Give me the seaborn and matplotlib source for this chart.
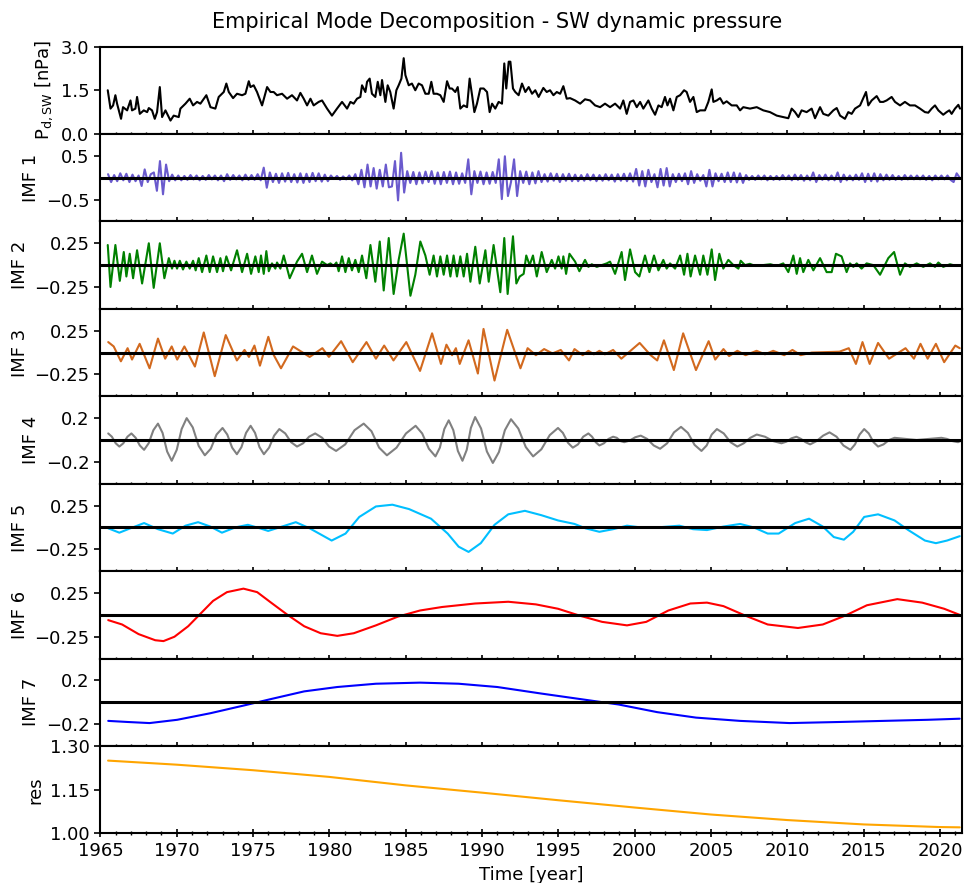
import numpy as np
import matplotlib
matplotlib.use("Agg")
import matplotlib.pyplot as plt
from matplotlib.ticker import MultipleLocator
import seaborn as sns

# --- SW dynamic pressure ---
top_t = [1965.48, 1965.66, 1965.83, 1965.98, 1966.09, 1966.35, 1966.48, 1966.75, 1966.97, 1967.07,
         1967.29, 1967.40, 1967.58, 1967.84, 1968.06, 1968.17, 1968.38, 1968.56, 1968.71, 1968.89,
         1969.04, 1969.26, 1969.59, 1969.80, 1970.13, 1970.24, 1970.57, 1970.85, 1971.07, 1971.33,
         1971.55, 1971.94, 1972.21, 1972.53, 1972.75, 1973.08, 1973.25, 1973.41, 1973.69, 1973.95,
         1974.28, 1974.50, 1974.72, 1974.83, 1975.04, 1975.26, 1975.59, 1975.92, 1976.14, 1976.35,
         1976.57, 1976.90, 1977.23, 1977.55, 1977.88, 1978.10, 1978.32, 1978.54, 1978.76, 1978.97,
         1979.30, 1979.52, 1979.85, 1980.17, 1980.50, 1980.83, 1981.16, 1981.38, 1981.59, 1981.81,
         1982.03, 1982.14, 1982.36, 1982.47, 1982.64, 1982.79, 1983.01, 1983.17, 1983.34, 1983.45,
         1983.67, 1983.82, 1983.99, 1984.21, 1984.39, 1984.54, 1984.72, 1984.87, 1984.98, 1985.20,
         1985.41, 1985.63, 1985.85, 1986.07, 1986.29, 1986.51, 1986.68, 1986.83, 1987.05, 1987.27,
         1987.49, 1987.71, 1987.88, 1988.03, 1988.25, 1988.41, 1988.58, 1988.80, 1989.02, 1989.19,
         1989.35, 1989.50, 1989.67, 1989.89, 1990.11, 1990.33, 1990.50, 1990.66, 1990.87, 1991.09,
         1991.31, 1991.46, 1991.59, 1991.75, 1991.86, 1992.03, 1992.18, 1992.40, 1992.62, 1992.84,
         1993.06, 1993.28, 1993.49, 1993.71, 1994.02, 1994.24, 1994.46, 1994.68, 1994.90, 1995.12,
         1995.33, 1995.55, 1995.77, 1996.10, 1996.43, 1996.75, 1997.08, 1997.41, 1997.74, 1998.06,
         1998.39, 1998.72, 1999.05, 1999.26, 1999.48, 1999.70, 1999.92, 2000.14, 2000.36, 2000.57,
         2000.90, 2001.12, 2001.34, 2001.56, 2001.77, 2001.99, 2002.15, 2002.32, 2002.54, 2002.76,
         2002.98, 2003.24, 2003.41, 2003.63, 2003.85, 2004.07, 2004.29, 2004.61, 2004.83, 2005.05,
         2005.16, 2005.38, 2005.60, 2005.81, 2006.03, 2006.36, 2006.69, 2006.91, 2007.12, 2007.56,
         2008.00, 2008.43, 2008.87, 2009.31, 2009.74, 2010.07, 2010.29, 2010.51, 2010.73, 2010.94,
         2011.27, 2011.60, 2011.82, 2012.15, 2012.36, 2012.69, 2013.02, 2013.24, 2013.46, 2013.78,
         2014.00, 2014.22, 2014.44, 2014.77, 2014.98, 2015.16, 2015.31, 2015.53, 2015.86, 2016.08,
         2016.29, 2016.51, 2016.84, 2017.06, 2017.39, 2017.71, 2018.04, 2018.37, 2018.70, 2019.02,
         2019.24, 2019.46, 2019.68, 2019.90, 2020.22, 2020.44, 2020.62, 2020.77, 2020.99, 2021.21,
         2021.32]
top_v = [1.50, 0.87, 0.98, 1.33, 1.04, 0.52, 0.92, 0.81, 1.15, 0.81,
         0.87, 1.27, 0.69, 0.81, 0.75, 0.89, 0.81, 0.52, 0.75, 1.61,
         0.58, 0.81, 0.46, 0.63, 0.58, 0.87, 1.04, 1.21, 0.98, 1.10,
         1.04, 1.33, 0.92, 0.87, 1.27, 1.44, 1.73, 1.44, 1.23, 1.38,
         1.33, 1.38, 1.81, 1.61, 1.67, 1.44, 0.98, 1.61, 1.44, 1.44,
         1.33, 1.38, 1.21, 1.33, 1.15, 1.41, 1.21, 0.98, 1.21, 0.98,
         1.10, 1.15, 0.87, 0.63, 0.87, 1.10, 0.87, 1.10, 1.04, 1.21,
         1.27, 1.67, 1.44, 1.79, 1.90, 1.38, 1.27, 1.79, 1.33, 1.85,
         1.10, 1.67, 1.44, 0.87, 1.50, 1.67, 1.90, 2.60, 2.02, 1.67,
         1.73, 1.50, 1.73, 1.67, 1.38, 1.38, 1.79, 1.38, 1.38, 1.33,
         1.10, 1.81, 1.56, 1.56, 1.44, 1.61, 0.87, 0.98, 0.92, 1.90,
         1.33, 0.75, 1.04, 1.56, 1.56, 1.44, 0.75, 1.04, 0.87, 1.10,
         1.04, 2.42, 1.56, 2.48, 2.48, 1.56, 1.44, 1.33, 1.73, 1.44,
         1.61, 1.38, 1.50, 1.27, 1.58, 1.44, 1.50, 1.33, 1.44, 1.38,
         1.64, 1.21, 1.23, 1.15, 1.04, 1.19, 1.15, 0.98, 0.92, 1.04,
         0.92, 1.04, 0.87, 1.15, 0.69, 1.10, 1.15, 0.92, 1.10, 0.87,
         1.15, 0.87, 0.66, 0.98, 0.92, 1.27, 0.98, 1.21, 0.81, 1.27,
         1.33, 1.50, 1.44, 1.10, 1.27, 0.75, 0.81, 0.81, 1.10, 1.53,
         1.10, 1.15, 1.23, 1.04, 1.12, 0.98, 0.98, 0.81, 0.92, 0.87,
         0.92, 0.81, 0.75, 0.63, 0.58, 0.54, 0.87, 0.75, 0.58, 0.81,
         0.75, 0.87, 0.54, 0.92, 0.69, 0.63, 0.81, 0.89, 0.63, 0.52,
         0.75, 0.69, 0.87, 0.98, 1.23, 1.44, 0.98, 1.15, 1.30, 1.10,
         1.10, 1.15, 1.27, 1.10, 0.98, 1.10, 0.98, 0.98, 0.87, 0.75,
         0.73, 0.87, 0.98, 0.81, 0.66, 0.75, 0.81, 0.69, 0.87, 1.00,
         0.87]

# --- IMF 1 (5 samples per year from 1965.5) ---
imf1_v = [0.08, -0.10, 0.06,
          -0.08, 0.10, -0.06, 0.09, -0.10,
          0.07, -0.08, 0.05, -0.19, 0.19,
          -0.10, 0.08, 0.12, -0.30, 0.38,
          -0.38, 0.30, -0.08, 0.07, -0.06,
          0.05, -0.06, 0.04, -0.05, 0.06,
          -0.04, 0.05, -0.06, 0.04, -0.05,
          0.06, -0.04, 0.05, -0.06, 0.05,
          -0.08, 0.08, -0.05, 0.06, -0.04,
          0.05, -0.06, 0.07, -0.05, 0.06,
          -0.05, 0.08, -0.06, 0.23, -0.23,
          0.12, -0.10, 0.09, -0.12, 0.10,
          -0.09, 0.11, -0.10, 0.08, -0.11,
          0.10, -0.12, 0.09, -0.10, 0.11,
          -0.08, 0.10, -0.09, 0.07, -0.08,
          0.05, -0.03, 0.04, -0.05, 0.03,
          -0.04, 0.05, -0.06, 0.08, -0.15,
          0.18, -0.22, 0.30, -0.20, 0.22,
          -0.25, 0.18, -0.20, 0.30, -0.22,
          -0.20, 0.38, -0.52, 0.57, -0.34,
          0.15, -0.12, 0.13, -0.15, 0.12,
          -0.13, 0.14, -0.10, 0.15, -0.14,
          0.12, -0.15, 0.13, -0.12, 0.14,
          -0.15, 0.12, -0.14, 0.10, -0.12,
          0.42, -0.38, 0.15, -0.12, 0.14,
          -0.15, 0.12, -0.14, 0.13, -0.12,
          0.42, -0.49, 0.49, -0.42, -0.10,
          0.42, -0.42, 0.15, -0.12, 0.14,
          -0.15, 0.12, -0.13, 0.15, -0.10,
          0.08, -0.09, 0.10, -0.07, 0.09,
          -0.10, 0.08, -0.07, 0.09, -0.08,
          0.07, -0.08, 0.06, -0.07, 0.08,
          -0.06, 0.07, -0.08, 0.06, -0.07,
          0.08, -0.06, 0.07, -0.09, 0.08,
          -0.07, 0.09, -0.08, 0.10, -0.09,
          0.20, -0.18, 0.15, -0.20, 0.18,
          -0.10, 0.08, -0.22, 0.20, -0.18,
          0.22, -0.20, 0.08, -0.10, 0.09,
          -0.08, 0.10, -0.15, 0.15, -0.12,
          0.08, -0.07, 0.06, -0.20, 0.18,
          -0.20, 0.10, -0.08, 0.09, -0.10,
          0.12, -0.10, 0.12, -0.11, 0.10,
          -0.12, 0.06, -0.05, 0.04, -0.05,
          0.05, -0.04, 0.05, -0.06, 0.04,
          -0.05, 0.04, -0.05, 0.06, -0.04,
          0.05, -0.06, 0.07, -0.05, 0.06,
          -0.07, 0.05, -0.06, 0.12, -0.10,
          0.06, -0.05, 0.07, -0.06, 0.05,
          -0.06, 0.12, -0.10, 0.07, -0.06,
          0.05, -0.06, 0.07, -0.05, 0.10,
          -0.10, 0.09, -0.08, 0.10, -0.09,
          0.08, -0.06, 0.07, -0.05, 0.06,
          -0.05, 0.04, -0.05, 0.06, -0.04,
          0.05, -0.04, 0.05, -0.04, 0.05,
          -0.05, 0.04, -0.06, 0.05, -0.04,
          0.05, -0.04, 0.05, -0.05, -0.10,
          0.10, 0.0]
imf1_t = 1965.5 + 0.2 * np.arange(len(imf1_v))

# --- IMF 2 ---
imf2_t = [1965.48, 1965.66, 1965.98, 1966.27, 1966.53, 1966.70, 1966.92, 1967.14, 1967.40, 1967.73,
          1968.17, 1968.49, 1968.89, 1969.19, 1969.48, 1969.69, 1969.85, 1970.02, 1970.20, 1970.41,
          1970.63, 1970.85, 1971.07, 1971.24, 1971.44, 1971.66, 1971.94, 1972.16, 1972.38, 1972.64,
          1972.86, 1973.03, 1973.25, 1973.56, 1973.95, 1974.28, 1974.61, 1974.87, 1975.15, 1975.37,
          1975.52, 1975.70, 1975.87, 1976.03, 1976.24, 1976.46, 1976.57, 1976.79, 1977.01, 1977.40,
          1977.88, 1978.21, 1978.54, 1978.86, 1979.19, 1979.52, 1979.85, 1980.07, 1980.28, 1980.46,
          1980.61, 1980.83, 1981.05, 1981.27, 1981.48, 1981.70, 1981.92, 1982.14, 1982.42, 1982.69,
          1983.01, 1983.30, 1983.56, 1983.89, 1984.21, 1984.54, 1984.87, 1985.31, 1985.63, 1985.96,
          1986.29, 1986.57, 1986.83, 1987.05, 1987.27, 1987.49, 1987.71, 1987.93, 1988.14, 1988.36,
          1988.58, 1988.80, 1989.02, 1989.24, 1989.56, 1989.85, 1990.22, 1990.44, 1990.76, 1991.20,
          1991.46, 1991.68, 1992.03, 1992.25, 1992.47, 1992.73, 1992.90, 1993.12, 1993.34, 1993.59,
          1993.91, 1994.24, 1994.57, 1994.79, 1995.01, 1995.22, 1995.33, 1995.51, 1995.73, 1996.10,
          1996.38, 1996.75, 1996.97, 1997.19, 1997.52, 1997.84, 1998.17, 1998.39, 1998.72, 1999.15,
          1999.37, 1999.70, 2000.03, 2000.31, 2000.68, 2000.97, 2001.27, 2001.56, 2001.88, 2002.10,
          2002.32, 2002.65, 2002.98, 2003.24, 2003.46, 2003.67, 2003.96, 2004.29, 2004.50, 2004.77,
          2005.05, 2005.27, 2005.55, 2005.81, 2006.14, 2006.47, 2006.80, 2006.95, 2007.23, 2007.55,
          2007.90, 2008.43, 2008.90, 2009.30, 2009.74, 2010.07, 2010.40, 2010.62, 2010.84, 2011.05,
          2011.38, 2011.71, 2012.15, 2012.58, 2012.91, 2013.19, 2013.56, 2013.89, 2014.11, 2014.33,
          2014.55, 2014.87, 2015.20, 2015.64, 2016.08, 2016.62, 2017.00, 2017.39, 2017.71, 2018.04,
          2018.48, 2018.91, 2019.35, 2019.68, 2019.90, 2020.22, 2020.66, 2021.10, 2021.32]
imf2_v = [0.23, -0.25, 0.23, -0.18, 0.15, -0.13, 0.13, -0.15, 0.17, -0.21,
          0.25, -0.26, 0.25, -0.15, 0.08, -0.04, 0.05, -0.04, 0.05, -0.05,
          0.04, -0.04, 0.05, -0.06, 0.08, -0.08, 0.11, -0.08, 0.10, -0.08,
          0.08, -0.07, 0.10, -0.06, 0.17, -0.08, 0.13, -0.10, 0.10, -0.08,
          0.11, -0.10, 0.16, -0.07, 0.02, -0.04, 0.03, -0.04, 0.11, -0.15,
          0.04, 0.13, -0.08, 0.11, -0.10, 0.04, 0.0, 0.02, -0.01, 0.03,
          -0.07, 0.10, -0.08, 0.08, -0.06, 0.06, -0.08, 0.11, -0.15, 0.23,
          -0.19, 0.27, -0.29, 0.31, -0.33, 0.06, 0.36, -0.35, -0.11, 0.27,
          0.11, -0.11, 0.11, -0.13, 0.10, -0.11, 0.11, -0.13, 0.11, -0.13,
          0.10, -0.13, 0.13, -0.19, 0.21, -0.21, 0.17, -0.19, 0.23, -0.31,
          0.31, -0.33, 0.33, -0.21, -0.13, -0.10, 0.11, 0.0, 0.11, -0.13,
          0.15, -0.08, 0.06, -0.04, 0.10, -0.04, 0.10, -0.10, 0.13, 0.04,
          -0.07, 0.06, -0.02, 0.01, -0.02, 0.0, 0.02, 0.04, -0.10, 0.15,
          -0.17, 0.18, -0.08, -0.13, 0.11, -0.08, 0.11, -0.06, 0.06, -0.04,
          0.02, -0.04, 0.11, -0.11, 0.13, -0.13, 0.11, -0.11, 0.11, -0.11,
          0.18, -0.17, 0.13, -0.04, 0.06, 0.0, -0.04, 0.05, 0.0, 0.015,
          -0.01, 0.0, 0.01, -0.01, 0.02, -0.08, 0.11, -0.10, 0.08, -0.08,
          0.06, -0.06, 0.08, -0.08, -0.08, 0.13, 0.10, -0.08, 0.02, -0.02,
          0.02, -0.04, 0.02, 0.0, -0.11, 0.08, 0.15, -0.11, 0.02, -0.02,
          0.02, -0.02, 0.02, -0.02, 0.03, -0.02, 0.01, -0.01, 0.0]

# --- IMF 3 ---
imf3_t = [1965.51, 1965.87, 1966.34, 1966.78, 1967.07, 1967.57, 1968.22, 1968.77, 1969.24, 1969.67,
          1970.03, 1970.50, 1971.19, 1971.77, 1972.49, 1973.21, 1973.94, 1974.44, 1974.73, 1975.09,
          1975.45, 1976.00, 1976.36, 1976.83, 1977.62, 1978.71, 1979.54, 1979.97, 1980.77, 1981.53,
          1982.43, 1983.05, 1983.59, 1984.20, 1985.04, 1985.94, 1986.73, 1987.31, 1987.67, 1988.04,
          1988.29, 1988.54, 1989.12, 1989.73, 1990.10, 1990.82, 1991.65, 1992.52, 1992.99, 1993.53,
          1994.07, 1994.62, 1995.16, 1995.70, 1996.06, 1996.60, 1996.97, 1997.33, 1997.69, 1998.05,
          1998.59, 1999.13, 2000.33, 2001.05, 2001.48, 2001.92, 2002.57, 2003.18, 2004.02, 2004.85,
          2005.28, 2005.82, 2006.19, 2006.73, 2007.27, 2007.99, 2008.54, 2009.08, 2009.80, 2010.34,
          2010.88, 2011.61, 2013.42, 2014.03, 2014.50, 2014.93, 2015.40, 2015.95, 2016.67, 2017.75,
          2018.30, 2018.73, 2019.20, 2019.74, 2020.28, 2021.01, 2021.30]
imf3_v = [0.12, 0.07, -0.10, 0.05, -0.08, 0.10, -0.18, 0.16, -0.07, 0.07,
          -0.08, 0.07, -0.16, 0.23, -0.27, 0.20, -0.09, 0.03, -0.05, 0.08,
          -0.15, 0.18, -0.03, -0.18, 0.07, -0.05, 0.05, -0.05, 0.13, -0.11,
          0.12, -0.07, 0.08, -0.09, 0.12, -0.21, 0.22, -0.13, 0.09, -0.03,
          0.05, -0.13, 0.14, -0.24, 0.27, -0.32, 0.26, -0.18, 0.05, -0.03,
          0.04, -0.01, 0.03, -0.09, 0.04, -0.03, 0.02, -0.02, 0.02, -0.02,
          0.03, -0.07, 0.11, -0.03, -0.09, 0.14, -0.20, 0.22, -0.20, 0.13,
          -0.08, 0.04, -0.04, 0.02, -0.03, 0.02, -0.02, 0.02, -0.03, 0.03,
          -0.03, 0.0, 0.01, 0.05, -0.13, 0.12, -0.13, 0.11, -0.07, 0.05,
          -0.07, 0.10, -0.07, 0.10, -0.11, 0.08, 0.05]

# --- IMF 4 ---
imf4_t = [1965.51, 1965.75, 1966.00, 1966.24, 1966.50, 1966.77, 1967.03, 1967.31, 1967.58, 1967.86,
          1968.16, 1968.47, 1968.77, 1969.07, 1969.37, 1969.67, 1970.00, 1970.32, 1970.65, 1971.05,
          1971.44, 1971.84, 1972.23, 1972.61, 1973.00, 1973.31, 1973.63, 1973.94, 1974.24, 1974.54,
          1974.84, 1975.13, 1975.42, 1975.71, 1976.05, 1976.38, 1976.72, 1977.11, 1977.49, 1977.88,
          1978.28, 1978.67, 1979.07, 1979.53, 1979.98, 1980.44, 1981.04, 1981.65, 1982.25, 1982.76,
          1983.26, 1983.77, 1984.40, 1985.02, 1985.65, 1986.08, 1986.52, 1986.95, 1987.24, 1987.53,
          1987.82, 1988.12, 1988.42, 1988.72, 1989.00, 1989.27, 1989.55, 1989.94, 1990.32, 1990.71,
          1991.11, 1991.50, 1991.90, 1992.38, 1992.87, 1993.35, 1993.89, 1994.44, 1994.98, 1995.30,
          1995.63, 1995.95, 1996.29, 1996.63, 1996.97, 1997.21, 1997.45, 1997.69, 1997.99, 1998.29,
          1998.59, 1998.83, 1999.08, 1999.32, 1999.68, 2000.04, 2000.40, 2000.82, 2001.25, 2001.67,
          2002.13, 2002.58, 2003.04, 2003.49, 2003.93, 2004.38, 2004.72, 2005.05, 2005.39, 2005.84,
          2006.28, 2006.73, 2007.15, 2007.58, 2008.00, 2008.54, 2009.08, 2009.62, 2009.95, 2010.27,
          2010.60, 2010.90, 2011.20, 2011.50, 2011.92, 2012.35, 2012.77, 2013.23, 2013.68, 2014.14,
          2014.44, 2014.74, 2015.04, 2015.34, 2015.65, 2015.95, 2016.31, 2016.67, 2017.03, 2017.75,
          2018.48, 2019.29, 2020.10, 2020.46, 2020.83, 2021.19, 2021.35]
imf4_v = [0.06, 0.03, -0.03, -0.06, -0.03, 0.03, 0.06, 0.02, -0.05, -0.09,
          -0.03, 0.09, 0.15, 0.065, -0.105, -0.19, -0.09, 0.10, 0.20, 0.115,
          -0.055, -0.14, -0.08, 0.05, 0.11, 0.05, -0.07, -0.13, -0.065, 0.065,
          0.13, 0.065, -0.065, -0.13, -0.07, 0.04, 0.10, 0.06, -0.02, -0.06,
          -0.03, 0.03, 0.06, 0.02, -0.06, -0.10, -0.04, 0.09, 0.15, 0.08,
          -0.07, -0.14, -0.07, 0.06, 0.13, 0.06, -0.08, -0.15, -0.07, 0.10,
          0.18, 0.09, -0.10, -0.19, -0.09, 0.11, 0.21, 0.105, -0.105, -0.21,
          -0.11, 0.09, 0.19, 0.105, -0.065, -0.15, -0.085, 0.045, 0.11, 0.065,
          -0.025, -0.07, -0.04, 0.03, 0.06, 0.03, -0.02, -0.05, -0.03, 0.01,
          0.03, 0.02, -0.01, -0.02, -0.005, 0.025, 0.04, 0.01, -0.05, -0.08,
          -0.03, 0.07, 0.12, 0.065, -0.045, -0.10, -0.05, 0.05, 0.10, 0.06,
          -0.02, -0.06, -0.03, 0.02, 0.05, 0.03, -0.01, -0.03, -0.015, 0.015,
          0.03, 0.01, -0.02, -0.04, -0.01, 0.04, 0.07, 0.03, -0.05, -0.09,
          -0.04, 0.05, 0.10, 0.06, -0.02, -0.06, -0.04, 0.0, 0.02, 0.01,
          0.0, 0.01, 0.02, 0.01, -0.01, -0.02, -0.01]

# --- IMF 5 ---
imf5_t = [1965.51, 1966.24, 1966.96, 1967.86, 1968.77, 1969.74, 1970.57, 1971.40, 1972.20, 1972.96,
          1973.83, 1974.66, 1975.45, 1975.99, 1976.90, 1977.80, 1978.71, 1980.15, 1981.06, 1981.96,
          1983.05, 1984.13, 1985.22, 1986.66, 1987.75, 1988.47, 1989.12, 1989.92, 1990.82, 1991.72,
          1992.81, 1993.89, 1994.98, 1996.06, 1996.78, 1997.69, 1998.59, 1999.50, 2000.40, 2001.48,
          2002.93, 2003.83, 2004.74, 2005.82, 2006.91, 2007.81, 2008.72, 2009.44, 2010.52, 2011.43,
          2012.33, 2013.05, 2013.71, 2014.32, 2015.04, 2015.95, 2017.03, 2017.93, 2019.02, 2019.74,
          2020.47, 2021.30]
imf5_v = [-0.01, -0.06, -0.01, 0.05, -0.02, -0.07, 0.02, 0.06, 0.01, -0.06,
          0.0, 0.03, -0.01, -0.04, 0.01, 0.06, -0.01, -0.15, -0.07, 0.12,
          0.24, 0.26, 0.21, 0.10, -0.07, -0.22, -0.28, -0.18, 0.03, 0.15,
          0.19, 0.14, 0.08, 0.04, -0.01, -0.05, -0.02, 0.02, 0.0, 0.0,
          0.02, -0.02, -0.03, 0.01, 0.04, 0.0, -0.07, -0.07, 0.05, 0.10,
          0.01, -0.11, -0.14, -0.05, 0.12, 0.15, 0.08, -0.03, -0.15, -0.18,
          -0.15, -0.10]

# --- IMF 6 ---
imf6_t = [1965.51, 1966.42, 1967.50, 1968.59, 1969.13, 1969.85, 1970.75, 1971.48, 1972.38, 1973.29,
          1974.37, 1975.27, 1976.18, 1977.26, 1978.35, 1979.43, 1980.52, 1981.60, 1983.05, 1984.49,
          1985.94, 1987.38, 1989.55, 1991.72, 1993.53, 1994.98, 1996.42, 1997.87, 1999.50, 2000.76,
          2002.21, 2003.65, 2004.74, 2005.82, 2007.27, 2008.72, 2010.70, 2012.33, 2013.78, 2015.22,
          2017.21, 2018.84, 2020.28, 2021.30]
imf6_v = [-0.06, -0.11, -0.22, -0.29, -0.30, -0.25, -0.13, 0.0, 0.16, 0.26,
          0.30, 0.26, 0.14, 0.0, -0.13, -0.21, -0.24, -0.21, -0.12, -0.02,
          0.05, 0.09, 0.13, 0.15, 0.12, 0.07, -0.01, -0.08, -0.12, -0.08,
          0.05, 0.13, 0.14, 0.10, -0.01, -0.11, -0.15, -0.11, -0.01, 0.11,
          0.18, 0.14, 0.07, 0.0]

# --- IMF 7 ---
imf7_t = [1965.51, 1966.78, 1968.22, 1970.03, 1972.20, 1974.37, 1976.18, 1978.35, 1980.52, 1983.05,
          1985.94, 1988.47, 1991.00, 1993.89, 1996.42, 1998.95, 2001.48, 2004.02, 2006.91, 2010.16,
          2013.42, 2016.31, 2019.20, 2021.30]
imf7_v = [-0.17, -0.18, -0.19, -0.16, -0.10, -0.03, 0.03, 0.10, 0.14, 0.17,
          0.18, 0.17, 0.14, 0.08, 0.03, -0.02, -0.09, -0.14, -0.17, -0.19,
          -0.18, -0.17, -0.16, -0.15]

# --- residual ---
res_t = [1965.5, 1970, 1975, 1980, 1985, 1990, 1995, 2000, 2005, 2010, 2015, 2020, 2021.3]
res_v = [1.250, 1.236, 1.217, 1.194, 1.165, 1.140, 1.114, 1.089, 1.065, 1.046, 1.031, 1.022, 1.021]

labels = [r"P$_{\mathrm{d,SW}}$ [nPa]", "IMF 1", "IMF 2", "IMF 3", "IMF 4",
          "IMF 5", "IMF 6", "IMF 7", "res"]
colors = ["black", "slateblue", "green", "chocolate", "gray",
          "deepskyblue", "red", "blue", "orange"]
series = [(top_t, top_v), (imf1_t, imf1_v), (imf2_t, imf2_v), (imf3_t, imf3_v),
          (imf4_t, imf4_v), (imf5_t, imf5_v), (imf6_t, imf6_v), (imf7_t, imf7_v),
          (res_t, res_v)]
ylims = [(0, 3), (-1, 1), (-0.5, 0.5), (-0.5, 0.5), (-0.4, 0.4),
         (-0.5, 0.5), (-0.5, 0.5), (-0.4, 0.4), (1.0, 1.3)]
yticks = [[0, 1.5, 3.0], [-0.5, 0.5], [-0.25, 0.25], [-0.25, 0.25], [-0.2, 0.2],
          [-0.25, 0.25], [-0.25, 0.25], [-0.2, 0.2], [1.0, 1.15, 1.3]]

sns.set_style("ticks", {"axes.edgecolor": "black", "xtick.color": "black",
                        "ytick.color": "black", "text.color": "black",
                        "axes.labelcolor": "black"})
plt.rcParams["font.family"] = ["DejaVu Sans"]
plt.rcParams["font.size"] = 13

fig, axes = plt.subplots(9, 1, figsize=(9.65, 8.83), dpi=100, sharex=True)
fig.subplots_adjust(left=0.1036, right=0.9969, top=0.9473, bottom=0.0561, hspace=0)

for i, ax in enumerate(axes):
    t, v = series[i]
    sns.lineplot(x=np.asarray(t), y=np.asarray(v), ax=ax, color=colors[i],
                 lw=1.5, errorbar=None)
    if 0 < i < 8:
        ax.axhline(0, color="black", lw=2.2, zorder=3)
    ax.set_ylim(ylims[i])
    ax.set_yticks(yticks[i])
    ax.set_ylabel(labels[i], fontsize=13)
    for sp in ax.spines.values():
        sp.set_linewidth(1.5)
    ax.xaxis.set_major_locator(MultipleLocator(5))
    ax.xaxis.set_minor_locator(MultipleLocator(1))
    ax.tick_params(axis="x", which="major", direction="inout", length=6, width=1.2)
    ax.tick_params(axis="x", which="minor", direction="inout", length=3.5, width=1.0)
    ax.tick_params(axis="y", direction="out", length=4, width=1.2, labelsize=13)
    ax.tick_params(axis="x", labelsize=13)

axes[0].set_xlim(1964.97, 2021.45)
axes[-1].set_xlabel("Time [year]", fontsize=13)
fig.suptitle("Empirical Mode Decomposition - SW dynamic pressure",
             x=0.515, y=0.975, va="center", fontsize=15)

fig.savefig("out.png", dpi=100)
